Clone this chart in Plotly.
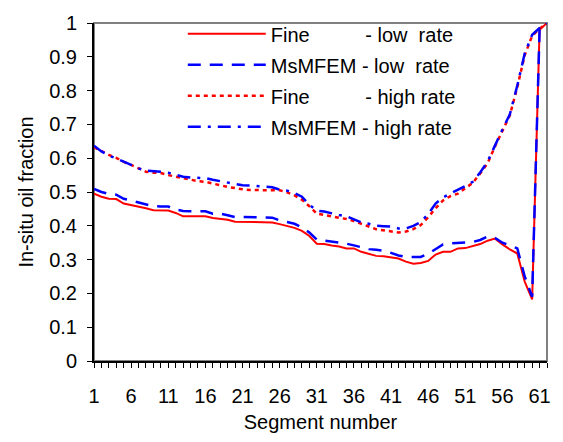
import plotly.graph_objects as go

segments = list(range(1, 63))

fine_low = [0.495, 0.486, 0.480, 0.479, 0.466, 0.462, 0.456, 0.452, 0.446, 0.445,
            0.445, 0.438, 0.428, 0.428, 0.428, 0.428, 0.423, 0.421, 0.418, 0.412,
            0.412, 0.412, 0.412, 0.412, 0.410, 0.405, 0.399, 0.394, 0.385, 0.370,
            0.347, 0.346, 0.342, 0.339, 0.333, 0.333, 0.323, 0.318, 0.311, 0.310,
            0.306, 0.303, 0.294, 0.288, 0.290, 0.296, 0.315, 0.323, 0.323, 0.333,
            0.334, 0.341, 0.346, 0.356, 0.362, 0.345, 0.330, 0.318, 0.235, 0.182,
            0.980, 1.000]

msmfem_low = [0.509, 0.500, 0.494, 0.492, 0.480, 0.474, 0.470, 0.464, 0.458, 0.457,
              0.457, 0.448, 0.444, 0.443, 0.443, 0.443, 0.436, 0.436, 0.431, 0.426,
              0.426, 0.426, 0.426, 0.426, 0.424, 0.416, 0.412, 0.406, 0.395, 0.380,
              0.359, 0.356, 0.354, 0.351, 0.347, 0.342, 0.337, 0.331, 0.329, 0.326,
              0.320, 0.312, 0.308, 0.308, 0.308, 0.317, 0.330, 0.345, 0.348, 0.349,
              0.349, 0.352, 0.358, 0.368, 0.364, 0.350, 0.342, 0.333, 0.250, 0.190,
              0.980, 1.000]

fine_high = [0.632, 0.620, 0.610, 0.601, 0.589, 0.580, 0.569, 0.560, 0.557, 0.556,
             0.550, 0.545, 0.540, 0.536, 0.532, 0.530, 0.524, 0.520, 0.515, 0.511,
             0.508, 0.506, 0.505, 0.505, 0.505, 0.505, 0.499, 0.490, 0.477, 0.458,
             0.436, 0.432, 0.428, 0.425, 0.420, 0.414, 0.407, 0.398, 0.390, 0.386,
             0.382, 0.380, 0.383, 0.390, 0.402, 0.425, 0.452, 0.475, 0.488, 0.495,
             0.511, 0.527, 0.555, 0.585, 0.635, 0.680, 0.727, 0.810, 0.905, 0.962,
             0.983, 1.000]

msmfem_high = [0.637, 0.620, 0.608, 0.600, 0.590, 0.580, 0.570, 0.563, 0.562, 0.560,
               0.557, 0.552, 0.545, 0.543, 0.543, 0.541, 0.536, 0.532, 0.526, 0.522,
               0.520, 0.519, 0.518, 0.516, 0.514, 0.507, 0.504, 0.497, 0.486, 0.462,
               0.445, 0.442, 0.436, 0.432, 0.428, 0.420, 0.410, 0.406, 0.400, 0.399,
               0.398, 0.392, 0.392, 0.400, 0.411, 0.435, 0.466, 0.484, 0.495, 0.505,
               0.518, 0.530, 0.558, 0.590, 0.640, 0.685, 0.730, 0.815, 0.910, 0.965,
               0.985, 1.000]

x_tick_vals = list(range(1, 62, 5))
x_tick_text = [str(v) for v in x_tick_vals]
y_tick_vals = [i / 10 for i in range(11)]
y_tick_text = ["0", "0.1", "0.2", "0.3", "0.4", "0.5", "0.6", "0.7", "0.8", "0.9", "1"]

NB = "\u00a0"
names = [
    "Fine" + NB * 10 + "- low" + NB * 2 + "rate",
    "MsMFEM" + NB + "- low" + NB * 2 + "rate",
    "Fine" + NB * 10 + "- high rate",
    "MsMFEM" + NB + "- high rate",
]

FONT = "Liberation Sans, Arial, sans-serif"

fig = go.Figure()
fig.add_trace(go.Scatter(x=segments, y=fine_low, mode="lines", name=names[0],
                         line=dict(color="#ff0000", width=2), legendgroup="a"))
fig.add_trace(go.Scatter(x=segments, y=msmfem_low, mode="lines", name=names[1],
                         line=dict(color="#0000ff", width=2.5, dash="13px,9px"), legendgroup="b"))
fig.add_trace(go.Scatter(x=segments, y=fine_high, mode="lines", name=names[2],
                         line=dict(color="#ff0000", width=2.5, dash="4px,4px"), legendgroup="c"))
fig.add_trace(go.Scatter(x=segments, y=msmfem_high, mode="lines", name=names[3],
                         line=dict(color="#0000ff", width=2.5, dash="13px,7px,3px,7px"), legendgroup="d"))

# gray plot-area frame (top/right), axes drawn over left/bottom
fig.add_shape(type="rect", xref="paper", yref="paper", x0=0, y0=0, x1=1, y1=1,
              line=dict(color="#808080", width=2), layer="below")

fig.update_layout(
    width=563, height=442,
    margin=dict(l=94, r=13, t=16, b=78),
    paper_bgcolor="white", plot_bgcolor="white",
    font=dict(family=FONT, size=20, color="black"),
    showlegend=True,
    legend=dict(x=0.196, y=1.026, xanchor="left", yanchor="top",
                bgcolor="rgba(0,0,0,0)", borderwidth=0,
                font=dict(family=FONT, size=20, color="black"),
                itemwidth=78, tracegroupgap=2, traceorder="grouped"),
    xaxis=dict(range=[1, 62], tickmode="array", tickvals=x_tick_vals, ticktext=x_tick_text,
               showgrid=False, zeroline=False, showline=True, linecolor="black", linewidth=2,
               ticks="outside", ticklen=5, tickcolor="black", tickwidth=1,
               minor=dict(dtick=1, tick0=1, ticks="outside", ticklen=5, tickcolor="black", tickwidth=1, showgrid=False),
               tickfont=dict(family=FONT, size=20), ticklabelstandoff=11,
               title=dict(text="Segment number", font=dict(family=FONT, size=20), standoff=9)),
    yaxis=dict(range=[0, 1], tickmode="array", tickvals=y_tick_vals, ticktext=y_tick_text,
               showgrid=False, zeroline=False, showline=True, linecolor="black", linewidth=2,
               ticks="outside", ticklen=5, tickcolor="black", tickwidth=1,
               tickfont=dict(family=FONT, size=20), ticklabelstandoff=6,
               title=dict(text="In-situ oil fraction", font=dict(family=FONT, size=20), standoff=10)),
)

fig.write_html("out.html")
